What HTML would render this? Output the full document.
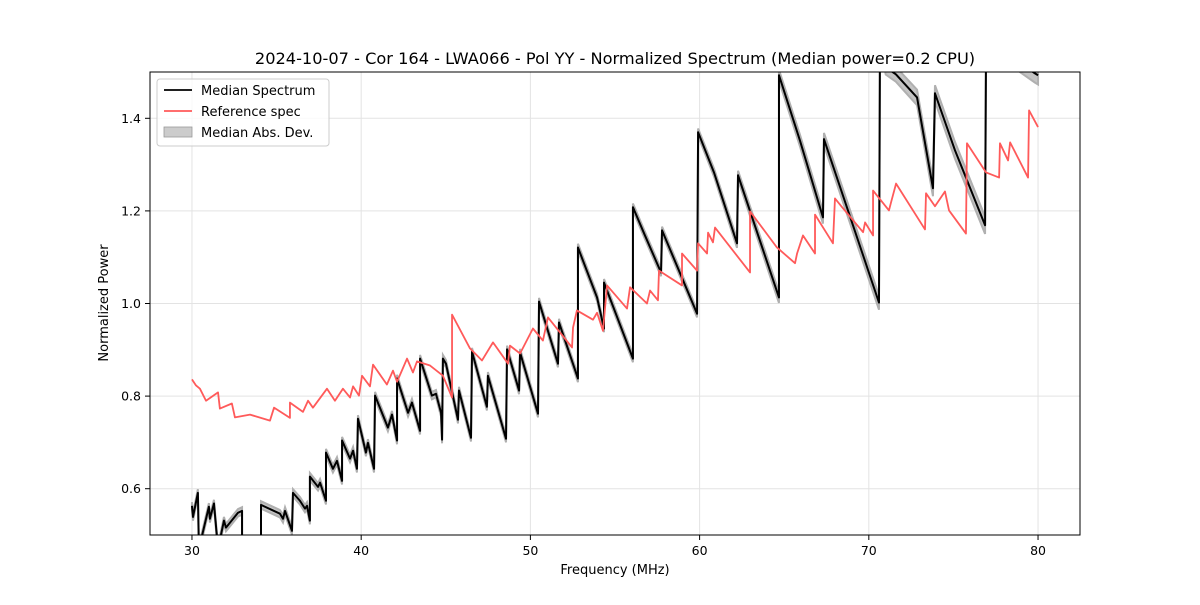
<!DOCTYPE html>
<html><head><meta charset="utf-8"><style>
body{margin:0;background:#fff;}
svg{font-family:"DejaVu Sans","Liberation Sans",sans-serif;}
</style></head><body>
<svg id="chart" width="1200" height="600" viewBox="0 0 1200 600">
<defs><clipPath id="plotclip"><rect x="150" y="72" width="930" height="463"/></clipPath></defs>
<rect x="0" y="0" width="1200" height="600" fill="#fff"/>
<text x="615" y="64" text-anchor="middle" font-size="16.2" fill="#000">2024-10-07 - Cor 164 - LWA066 - Pol YY - Normalized Spectrum (Median power=0.2 CPU)</text>
<g id="grid"></g>
<g id="ticks"></g>
<g clip-path="url(#plotclip)" id="series"></g>
<rect x="150" y="72" width="930" height="463" fill="none" stroke="#000" stroke-width="1"/>
<text x="615" y="574" text-anchor="middle" font-size="13">Frequency (MHz)</text>
<text x="108" y="303" text-anchor="middle" font-size="13" transform="rotate(-90 108 303)">Normalized Power</text>
<g>
<rect x="157" y="79" width="172" height="67" rx="3" fill="#fff" fill-opacity="0.8" stroke="#ccc"/>
<g><line x1="164" y1="90" x2="192" y2="90" stroke="#000" stroke-width="1.8"/><text x="201" y="95" font-size="13">Median Spectrum</text></g>
<g><line x1="164" y1="111" x2="192" y2="111" stroke="#ff5a5a" stroke-width="1.8"/><text x="201" y="116" font-size="13">Reference spec</text></g>
<g><rect x="164" y="127" width="28" height="10" fill="#bbb" fill-opacity="0.75" stroke="#999" stroke-width="0.8"/><text x="201" y="137" font-size="13">Median Abs. Dev.</text></g>
</g>
</svg>
<script>
const xTicks=[30,40,50,60,70,80];
const yTicks=[0.6,0.8,1.0,1.2,1.4];
const yTickLabels=["0.6","0.8","1.0","1.2","1.4"];
const medFreq=[30.00,30.06,30.35,30.41,31.00,31.06,31.30,31.54,31.89,32.01,32.72,32.96,32.96,34.08,34.08,35.20,35.38,35.50,35.91,35.97,36.38,36.68,36.80,36.97,36.97,37.45,37.57,37.92,37.92,38.33,38.57,38.87,38.87,39.34,39.52,39.75,39.81,40.28,40.40,40.76,40.82,41.58,41.82,42.12,42.12,42.77,43.00,43.48,43.48,44.18,44.42,44.72,44.78,44.83,45.01,45.72,45.78,46.49,46.55,47.43,47.49,48.56,48.62,49.33,49.39,50.45,50.51,51.63,51.69,52.81,52.81,53.94,54.35,54.35,56.06,56.06,56.77,57.72,57.78,59.85,59.91,60.85,62.21,62.27,64.69,64.69,65.93,67.29,67.35,70.60,70.66,71.00,71.60,72.85,73.79,73.91,75.09,76.87,76.93,79.82,80.00];
const medVal=[0.563,0.539,0.591,0.47,0.561,0.535,0.568,0.47,0.531,0.516,0.548,0.552,0.47,0.47,0.565,0.546,0.535,0.552,0.509,0.591,0.574,0.557,0.563,0.531,0.626,0.604,0.613,0.574,0.678,0.643,0.660,0.617,0.704,0.665,0.682,0.643,0.751,0.678,0.699,0.643,0.801,0.732,0.760,0.704,0.838,0.764,0.786,0.725,0.881,0.801,0.805,0.764,0.706,0.881,0.870,0.749,0.812,0.710,0.896,0.777,0.844,0.708,0.901,0.812,0.894,0.762,1.004,0.870,0.959,0.838,1.121,1.013,0.946,1.045,0.881,1.208,1.147,1.067,1.158,0.978,1.370,1.283,1.130,1.277,1.013,1.493,1.352,1.186,1.355,1.002,1.57,1.51,1.495,1.445,1.249,1.454,1.331,1.169,1.57,1.497,1.493];
const refFreq=[30.00,30.24,30.47,30.83,31.54,31.65,32.36,32.54,33.43,34.61,34.85,35.79,35.79,36.56,36.86,37.15,37.98,38.45,38.92,39.34,39.52,39.87,40.05,40.52,40.70,41.52,41.88,42.12,42.71,43.06,43.30,44.07,44.83,45.37,45.37,46.43,47.14,47.79,48.68,48.79,49.39,50.15,50.74,51.04,52.46,52.52,52.75,53.70,53.94,54.29,54.53,55.71,55.89,56.89,57.07,57.54,57.60,58.96,58.96,59.85,59.91,60.44,60.50,60.79,60.91,62.98,62.98,64.57,65.64,65.76,66.11,66.82,66.82,67.88,68.00,68.42,69.66,69.78,70.25,70.25,71.19,71.31,71.61,73.32,73.38,73.91,74.50,74.74,75.74,75.80,76.93,77.70,77.75,78.23,78.35,79.41,79.47,80.00];
const refVal=[0.836,0.823,0.816,0.790,0.808,0.773,0.784,0.754,0.760,0.747,0.775,0.753,0.786,0.766,0.790,0.775,0.816,0.790,0.816,0.797,0.821,0.801,0.844,0.821,0.868,0.825,0.855,0.831,0.881,0.851,0.875,0.866,0.844,0.797,0.976,0.903,0.877,0.916,0.870,0.909,0.892,0.946,0.920,0.970,0.905,0.948,0.985,0.965,0.980,0.941,1.039,0.989,1.035,1.000,1.028,1.007,1.071,1.039,1.108,1.071,1.130,1.108,1.153,1.132,1.164,1.067,1.199,1.121,1.087,1.108,1.147,1.108,1.192,1.130,1.227,1.208,1.154,1.175,1.147,1.244,1.201,1.218,1.259,1.160,1.238,1.210,1.242,1.201,1.151,1.346,1.283,1.272,1.346,1.309,1.348,1.272,1.417,1.381];
const madFreq=[30,60,65,70,75,80];
const madVal=[0.008,0.008,0.012,0.015,0.018,0.02];

const NS="http://www.w3.org/2000/svg";
const X0=27.52,X1=82.48,Y0=0.5,Y1=1.5;
function sx(f){return 150+(f-X0)/(X1-X0)*930;}
function sy(v){return 535-(v-Y0)/(Y1-Y0)*463;}
function madAt(f){for(let i=0;i<madFreq.length-1;i++){if(f<=madFreq[i+1]){const t=(f-madFreq[i])/(madFreq[i+1]-madFreq[i]);return madVal[i]+t*(madVal[i+1]-madVal[i]);}}return madVal[madVal.length-1];}
function mk(tag,attrs){const e=document.createElementNS(NS,tag);for(const k in attrs)e.setAttribute(k,attrs[k]);return e;}
const grid=document.getElementById('grid'),ticks=document.getElementById('ticks'),series=document.getElementById('series');
xTicks.forEach(t=>{
 const g=mk('line',{x1:sx(t),x2:sx(t),y1:72,y2:535,stroke:'#e3e3e3','stroke-width':1});
 
 
 grid.appendChild(g);
 const tk=mk('line',{x1:sx(t),x2:sx(t),y1:535,y2:540,stroke:'#000'});
 
 
 ticks.appendChild(tk);
 const tl=mk('text',{x:sx(t),y:555,'text-anchor':'middle','font-size':12.5});
 
 
 tl.textContent=String(t);ticks.appendChild(tl);
});
yTicks.forEach((t,i)=>{
 const g=mk('line',{x1:150,x2:1080,y1:sy(t),y2:sy(t),stroke:'#e3e3e3','stroke-width':1});
 
 
 grid.appendChild(g);
 const tk=mk('line',{x1:145,x2:150,y1:sy(t),y2:sy(t),stroke:'#000'});
 
 
 ticks.appendChild(tk);
 const tl=mk('text',{x:141,y:sy(t)+4.5,'text-anchor':'end','font-size':12.5});
 
 
 tl.textContent=yTickLabels[i];ticks.appendChild(tl);
});
// MAD band
let up=[],lo=[];
medFreq.forEach((f,i)=>{const m=madAt(f);up.push(sx(f)+','+sy(medVal[i]+m));lo.unshift(sx(f)+','+sy(medVal[i]-m));});
const band=mk('polygon',{points:up.concat(lo).join(' '),fill:'#b0b0b0','fill-opacity':0.75,stroke:'#b0b0b0','stroke-width':2});


series.appendChild(band);
const med=mk('polyline',{points:medFreq.map((f,i)=>sx(f)+','+sy(medVal[i])).join(' '),fill:'none',stroke:'#000','stroke-width':2,'stroke-linejoin':'round'});


series.appendChild(med);
const ref=mk('polyline',{points:refFreq.map((f,i)=>sx(f)+','+sy(refVal[i])).join(' '),fill:'none',stroke:'#ff5a5a','stroke-width':1.8,'stroke-linejoin':'round'});


series.appendChild(ref);
</script>
</body></html>
